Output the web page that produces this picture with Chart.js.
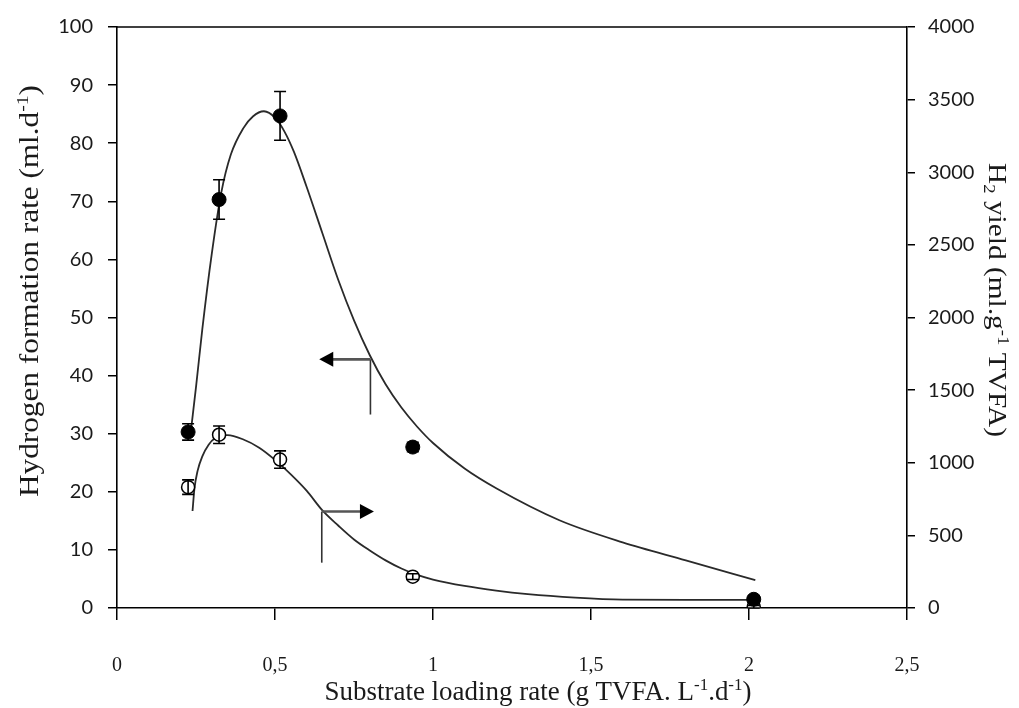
<!DOCTYPE html>
<html>
<head>
<meta charset="utf-8">
<script src="https://cdn.jsdelivr.net/npm/chart.js@4.4.1/dist/chart.umd.min.js"></script>
<style>
  html, body { margin: 0; padding: 0; background: #fff; }
  #wrap { width: 1019px; height: 708px; }
</style>
</head>
<body>
<div id="wrap"><canvas id="chart" width="1019" height="708"></canvas></div>
<script>
// measured points (x shared by both series)
const loadingRate = [0.225, 0.323, 0.516, 0.936, 2.015];
const h2Rate = [30.3, 70.3, 84.7, 27.7, 1.5];        // ml/d, filled circles
const h2RateErr = [1.4, 3.4, 4.2, 0.8, 0.6];
const h2Yield = [832, 1193, 1022, 216, 8];            // ml/g TVFA, open circles
const h2YieldErr = [50, 60, 60, 20, 10];

// fitted curves
const rateFitX = [0.235, 0.25, 0.27, 0.30, 0.33, 0.36, 0.40, 0.43, 0.465, 0.50, 0.53, 0.56, 0.60, 0.65, 0.70, 0.75, 0.80, 0.85, 0.90, 0.95, 1.0, 1.1, 1.2, 1.4, 1.6, 1.8, 2.02];
const rateFitY = [31, 38, 48, 61, 71.5, 78, 82.6, 84.6, 85.5, 84.4, 82, 78.5, 72.5, 64.5, 56.5, 49.5, 43.5, 38.5, 34.5, 31.2, 28.4, 24, 20.6, 15.1, 11.3, 8.2, 4.8];
const yieldFitX = [0.239, 0.245, 0.255, 0.27, 0.29, 0.31, 0.35, 0.40, 0.45, 0.50, 0.55, 0.60, 0.65, 0.70, 0.75, 0.80, 0.85, 0.90, 0.95, 1.0, 1.1, 1.2, 1.3, 1.45, 1.6, 1.8, 2.02];
const yieldFitY = [668, 820, 944, 1044, 1124, 1168, 1190, 1160, 1104, 1020, 920, 808, 672, 568, 472, 396, 328, 272, 228, 196, 152, 120, 96, 72, 58, 56, 56];

// axis ticks
const xTicks = [0, 0.5, 1, 1.5, 2, 2.5];
const leftTicks = [0, 10, 20, 30, 40, 50, 60, 70, 80, 90, 100];
const rightTicks = [0, 500, 1000, 1500, 2000, 2500, 3000, 3500, 4000];

// arrows pointing to the axis each curve belongs to: [xFoot, yFoot, yCorner, xTip] (left-axis units)
const arrowToLeft = [0.802, 33.3, 42.8, 0.64];
const arrowToRight = [0.648, 7.8, 16.6, 0.813];

const INK = '#1a1a1a';
const SERIF = '"Liberation Serif", "Times New Roman", serif';
const SANS = 'Lato, "Open Sans", sans-serif';

function toPoints(xs, ys) {
    return xs.map((x, i) => ({ x: x, y: ys[i] }));
}

// draws a title made of runs (plain / sup / sub), stretched to a given length
function drawRich(ctx, runs, cx, cy, angle, size, len) {
    ctx.save();
    const fontFor = kind => (kind ? Math.round(size * 0.62) : size) + 'px ' + SERIF;
    let w = 0;
    runs.forEach(r => { ctx.font = fontFor(r[1]); r.w = ctx.measureText(r[0]).width; w += r.w; });
    ctx.translate(cx, cy);
    ctx.rotate(angle);
    ctx.scale(len / w, 1);
    ctx.fillStyle = INK;
    ctx.textBaseline = 'alphabetic';
    ctx.textAlign = 'left';
    let x = -w / 2;
    runs.forEach(r => {
        ctx.font = fontFor(r[1]);
        const dy = r[1] === 'sup' ? -size * 0.36 : (r[1] === 'sub' ? size * 0.2 : 0);
        ctx.fillText(r[0], x, dy);
        x += r.w;
    });
    ctx.restore();
}

function drawArrow(ctx, xs, ys, a) {
    const fx = xs.getPixelForValue(a[0]);
    const fy = ys.getPixelForValue(a[1]);
    const cy = ys.getPixelForValue(a[2]);
    const tx = xs.getPixelForValue(a[3]);
    const dir = Math.sign(tx - fx);
    ctx.strokeStyle = '#333';
    ctx.lineWidth = 1.6;
    ctx.beginPath();
    ctx.moveTo(fx, fy);
    ctx.lineTo(fx, cy);
    ctx.stroke();
    ctx.lineWidth = 2.6;
    ctx.strokeStyle = '#555';
    ctx.beginPath();
    ctx.moveTo(fx, cy);
    ctx.lineTo(tx - dir * 12, cy);
    ctx.stroke();
    ctx.fillStyle = '#000';
    ctx.beginPath();
    ctx.moveTo(tx, cy);
    ctx.lineTo(tx - dir * 14, cy - 7.5);
    ctx.lineTo(tx - dir * 14, cy + 7.5);
    ctx.closePath();
    ctx.fill();
}

const overlay = {
    id: 'overlay',
    afterDatasetsDraw(chart) {
        const ctx = chart.ctx;
        const xs = chart.scales.x;
        ctx.save();
        ctx.strokeStyle = '#000';
        ctx.lineWidth = 1.6;
        const bars = [[h2Rate, h2RateErr, chart.scales.y], [h2Yield, h2YieldErr, chart.scales.y2]];
        bars.forEach(([vals, errs, ys]) => {
            vals.forEach((v, i) => {
                const px = xs.getPixelForValue(loadingRate[i]);
                const top = ys.getPixelForValue(v + errs[i]);
                const bot = ys.getPixelForValue(Math.max(0, v - errs[i]));
                ctx.beginPath();
                ctx.moveTo(px, top); ctx.lineTo(px, bot);
                ctx.moveTo(px - 6, top); ctx.lineTo(px + 6, top);
                ctx.moveTo(px - 6, bot); ctx.lineTo(px + 6, bot);
                ctx.stroke();
            });
        });
        ctx.restore();
    },
    afterDraw(chart) {
        const ctx = chart.ctx;
        const area = chart.chartArea;
        const xs = chart.scales.x;
        const ys = chart.scales.y;
        ctx.save();
        // top frame line
        ctx.strokeStyle = '#000';
        ctx.lineWidth = 1.5;
        ctx.beginPath();
        ctx.moveTo(area.left, area.top);
        ctx.lineTo(area.right, area.top);
        ctx.stroke();

        drawArrow(ctx, xs, ys, arrowToLeft);
        drawArrow(ctx, xs, ys, arrowToRight);

        drawRich(ctx, [['Substrate loading rate (g TVFA. L'], ['-1', 'sup'], ['.d'], ['-1', 'sup'], [')']],
            538, 700, 0, 27, 427);
        drawRich(ctx, [['Hydrogen formation rate (ml.d'], ['-1', 'sup'], [')']],
            38, 291, -Math.PI / 2, 27, 412);
        drawRich(ctx, [['H'], ['2', 'sub'], [' yield (ml.g'], ['-1', 'sup'], [' TVFA)']],
            989, 300, Math.PI / 2, 25, 274);
        ctx.restore();
    }
};

const tickGrid = len => ({
    drawOnChartArea: false,
    drawTicks: true,
    tickLength: len,
    color: '#000',
    lineWidth: 1.5
});

new Chart(document.getElementById('chart'), {
    data: {
        datasets: [
            {
                type: 'scatter',
                label: 'H2 formation rate',
                data: toPoints(loadingRate, h2Rate),
                yAxisID: 'y',
                pointRadius: 7,
                pointBackgroundColor: '#000',
                pointBorderColor: '#000',
                pointBorderWidth: 1,
                order: 0
            },
            {
                type: 'scatter',
                label: 'H2 yield',
                data: toPoints(loadingRate, h2Yield),
                yAxisID: 'y2',
                pointRadius: 6.5,
                pointBackgroundColor: '#fff',
                pointBorderColor: '#000',
                pointBorderWidth: 1.5,
                order: 0
            },
            {
                type: 'line',
                label: 'rate fit',
                data: toPoints(rateFitX, rateFitY),
                yAxisID: 'y',
                borderColor: '#2a2a2a',
                borderWidth: 1.8,
                pointRadius: 0,
                fill: false,
                cubicInterpolationMode: 'monotone',
                order: 1
            },
            {
                type: 'line',
                label: 'yield fit',
                data: toPoints(yieldFitX, yieldFitY),
                yAxisID: 'y2',
                borderColor: '#2a2a2a',
                borderWidth: 1.8,
                pointRadius: 0,
                fill: false,
                cubicInterpolationMode: 'monotone',
                order: 1
            }
        ]
    },
    options: {
        responsive: false,
        animation: false,
        devicePixelRatio: 1,
        layout: { padding: { top: 23, left: 0, right: 0, bottom: 0 } },
        plugins: {
            legend: { display: false },
            tooltip: { enabled: false }
        },
        scales: {
            x: {
                type: 'linear',
                min: 0,
                max: 2.5,
                afterFit: s => { s.height = 100; },
                afterBuildTicks: s => { s.ticks = xTicks.map(v => ({ value: v })); },
                ticks: {
                    autoSkip: false,
                    maxRotation: 0,
                    padding: 34,
                    color: INK,
                    font: { family: SERIF, size: 20 },
                    callback: v => String(v).replace('.', ',')
                },
                grid: tickGrid(12),
                border: { color: '#000', width: 1.6 }
            },
            y: {
                type: 'linear',
                position: 'left',
                min: 0,
                max: 100,
                afterFit: s => { s.width = 117; },
                afterBuildTicks: s => { s.ticks = leftTicks.map(v => ({ value: v })); },
                ticks: {
                    autoSkip: false,
                    padding: 15,
                    color: INK,
                    font: { family: SANS, size: 20 },
                    callback: v => String(v)
                },
                grid: tickGrid(9),
                border: { color: '#000', width: 1.6 }
            },
            y2: {
                type: 'linear',
                position: 'right',
                min: 0,
                max: 4000,
                afterFit: s => { s.width = 112; },
                afterBuildTicks: s => { s.ticks = rightTicks.map(v => ({ value: v })); },
                ticks: {
                    autoSkip: false,
                    padding: 13,
                    color: INK,
                    font: { family: SANS, size: 20 },
                    callback: v => String(v)
                },
                grid: tickGrid(8),
                border: { color: '#000', width: 1.6 }
            }
        }
    },
    plugins: [overlay]
});
</script>
</body>
</html>
